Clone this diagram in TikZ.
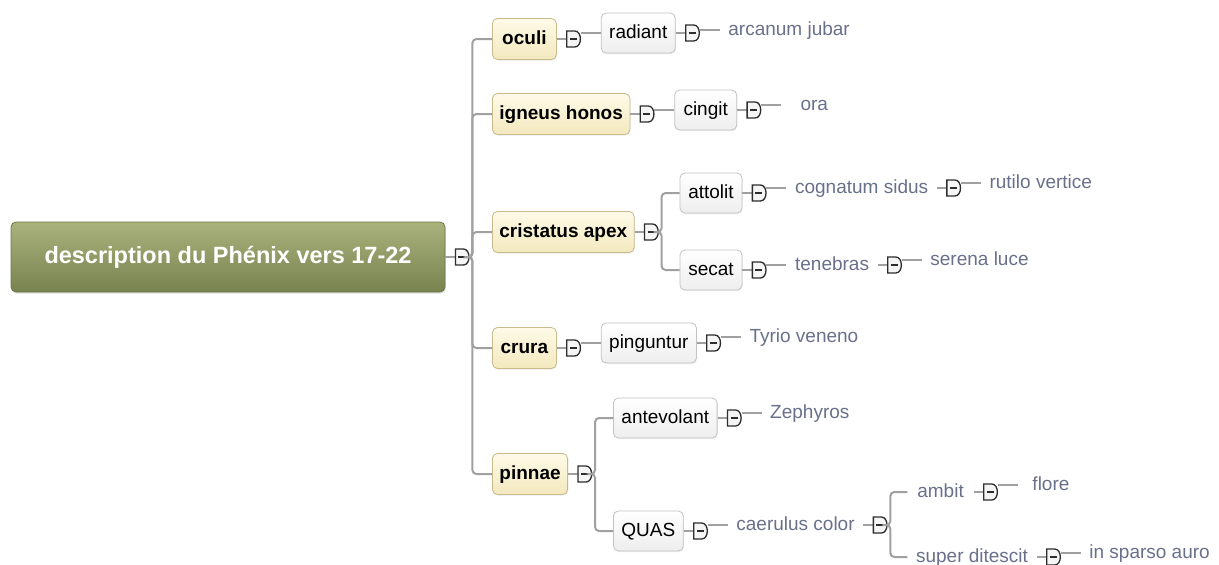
\documentclass[tikz,border=0pt]{standalone}
\usepackage{fontspec}
\setmainfont{Liberation Sans}
\usetikzlibrary{positioning,shadows}
\definecolor{roott}{RGB}{170,178,124}
\definecolor{rootbot}{RGB}{120,131,80}
\definecolor{rootb}{RGB}{110,120,75}
\definecolor{lont}{RGB}{254,250,232}
\definecolor{lonbot}{RGB}{243,233,190}
\definecolor{lonb}{RGB}{200,186,140}
\definecolor{ltwobot}{RGB}{238,238,238}
\definecolor{ltwob}{RGB}{195,195,195}
\definecolor{leaf}{RGB}{105,112,138}
\definecolor{connc}{RGB}{160,160,160}
\definecolor{mkc}{RGB}{45,45,45}
\definecolor{mkf}{RGB}{245,245,245}
\newcommand{\mkat}[2]{%
  \node[mkn, right=10pt of #2] (#1) {};
  \draw[conn, rounded corners=0pt] (#2.east) -- (#1.west);
  \draw[mkline] (#1.south west) -- ([xshift=-6pt]#1.south east) .. controls ([xshift=1.5pt]#1.south east) and ([xshift=1.5pt]#1.north east) .. ([xshift=-6pt]#1.north east) -- (#1.north west) -- cycle;
  \draw[mkline] ([xshift=3pt]#1.west) -- ([xshift=-4pt]#1.east);}
\begin{document}
\begin{tikzpicture}[x=1pt,y=-1pt,
  txt/.style={font=\fontsize{19}{22}\selectfont, text height=14pt, text depth=4pt},
  root/.style={rounded corners=5pt, draw=rootb, top color=roott, bottom color=rootbot,
    minimum width=434pt, minimum height=70pt, text=white, line width=0.8pt,
    font=\fontsize{23.5}{28}\selectfont\bfseries,
    drop shadow={shadow xshift=0.8pt, shadow yshift=-1.5pt, opacity=0.25}},
  lone/.style={txt, font=\fontsize{19}{22}\selectfont\bfseries, rounded corners=5pt, draw=lonb,
    top color=lont, bottom color=lonbot, inner xsep=7pt, minimum width=64pt,
    minimum height=41pt, anchor=west, line width=0.8pt,
    drop shadow={shadow xshift=0.6pt, shadow yshift=-1pt, opacity=0.15}},
  ltwo/.style={txt, rounded corners=5pt, draw=ltwob, top color=white, bottom color=ltwobot,
    inner xsep=8pt, minimum width=62pt, minimum height=40pt, anchor=west, line width=0.8pt,
    drop shadow={shadow xshift=0.6pt, shadow yshift=-1pt, opacity=0.15}},
  lthree/.style={txt, text=leaf, inner xsep=8.5pt, inner ysep=2pt, minimum width=66pt, anchor=west},
  conn/.style={draw=connc, line width=2pt, rounded corners=4pt},
  mkn/.style={minimum width=14pt, minimum height=16pt, inner sep=0pt, outer sep=0pt},
  mkline/.style={draw=mkc, line width=1.3pt, fill=mkf}]
\useasboundingbox[fill=white] (0,0) rectangle (1219,565);

\node[root] (r) at (228,257) {description du Phénix vers 17-22};
\mkat{m0}{r}
\coordinate (tk) at ([xshift=3pt]m0.east);

\node[lone] (oc) at (492,39) {oculi};
\node[lone] (ig) at (492,114) {igneus honos};
\node[lone] (cr) at (492,232) {cristatus apex};
\node[lone] (cu) at (492,348) {crura};
\node[lone] (pi) at (492,474) {pinnae};
\foreach \n in {oc,ig,cr,cu,pi} \draw[conn] (m0.east) -- (tk) |- (\n.west);

% oculi
\mkat{moc}{oc}
\node[ltwo] (rad) at ([shift={(20,-6)}]moc.east) {radiant};
\draw[conn] (moc.east |- rad.west) -- (rad.west);
\mkat{mrad}{rad}
\node[lthree] (arc) at ([shift={(20,-3)}]mrad.east) {arcanum jubar};
\draw[conn] (mrad.east |- arc.west) -- (arc.west);

% igneus honos
\mkat{mig}{ig}
\node[ltwo] (cin) at ([shift={(20,-4)}]mig.east) {cingit};
\draw[conn] (mig.east |- cin.west) -- (cin.west);
\mkat{mcin}{cin}
\node[lthree] (ora) at ([shift={(20,-5)}]mcin.east) {ora};
\draw[conn] (mcin.east |- ora.west) -- (ora.west);

% cristatus apex
\mkat{mcr}{cr}
\coordinate (vcr) at ([xshift=3pt]mcr.east);
\node[ltwo] (att) at ([shift={(21,-39)}]mcr.east) {attolit};
\node[ltwo] (sec) at ([shift={(21,38)}]mcr.east) {secat};
\draw[conn] (mcr.east) -- (vcr) |- (att.west);
\draw[conn] (mcr.east) -- (vcr) |- (sec.west);
\mkat{matt}{att}
\node[lthree] (cog) at ([shift={(20,-5)}]matt.east) {cognatum sidus};
\draw[conn] (matt.east |- cog.west) -- (cog.west);
\mkat{mcog}{cog}
\node[lthree] (rut) at ([shift={(20,-5)}]mcog.east) {rutilo vertice};
\draw[conn] (mcog.east |- rut.west) -- (rut.west);
\mkat{msec}{sec}
\node[lthree] (ten) at ([shift={(20,-5)}]msec.east) {tenebras};
\draw[conn] (msec.east |- ten.west) -- (ten.west);
\mkat{mten}{ten}
\node[lthree] (ser) at ([shift={(20,-5)}]mten.east) {serena luce};
\draw[conn] (mten.east |- ser.west) -- (ser.west);

% crura
\mkat{mcu}{cu}
\node[ltwo] (pig) at ([shift={(20,-5)}]mcu.east) {pinguntur};
\draw[conn] (mcu.east |- pig.west) -- (pig.west);
\mkat{mpig}{pig}
\node[lthree] (tyr) at ([shift={(20,-6)}]mpig.east) {Tyrio veneno};
\draw[conn] (mpig.east |- tyr.west) -- (tyr.west);

% pinnae
\mkat{mpi}{pi}
\coordinate (vpi) at ([xshift=3pt]mpi.east);
\node[ltwo] (ant) at ([shift={(21,-56)}]mpi.east) {antevolant};
\node[ltwo] (qua) at ([shift={(21,57)}]mpi.east) {QUAS};
\draw[conn] (mpi.east) -- (vpi) |- (ant.west);
\draw[conn] (mpi.east) -- (vpi) |- (qua.west);
\mkat{mant}{ant}
\node[lthree] (zep) at ([shift={(20,-5)}]mant.east) {Zephyros};
\draw[conn] (mant.east |- zep.west) -- (zep.west);
\mkat{mqua}{qua}
\node[lthree] (cae) at ([shift={(20,-6)}]mqua.east) {caerulus color};
\draw[conn] (mqua.east |- cae.west) -- (cae.west);
\mkat{mcae}{cae}
\coordinate (vcae) at ([xshift=3pt]mcae.east);
\node[lthree] (amb) at ([shift={(20,-33)}]mcae.east) {ambit};
\node[lthree] (sup) at ([shift={(20,32)}]mcae.east) {super ditescit};
\draw[conn] (mcae.east) -- (vcae) |- (amb.west);
\draw[conn] (mcae.east) -- (vcae) |- (sup.west);
\mkat{mamb}{amb}
\node[lthree] (flo) at ([shift={(20,-7)}]mamb.east) {flore};
\draw[conn] (mamb.east |- flo.west) -- (flo.west);
\mkat{msup}{sup}
\node[lthree] (ins) at ([shift={(20,-4)}]msup.east) {in sparso auro};
\draw[conn] (msup.east |- ins.west) -- (ins.west);
\end{tikzpicture}
\end{document}
